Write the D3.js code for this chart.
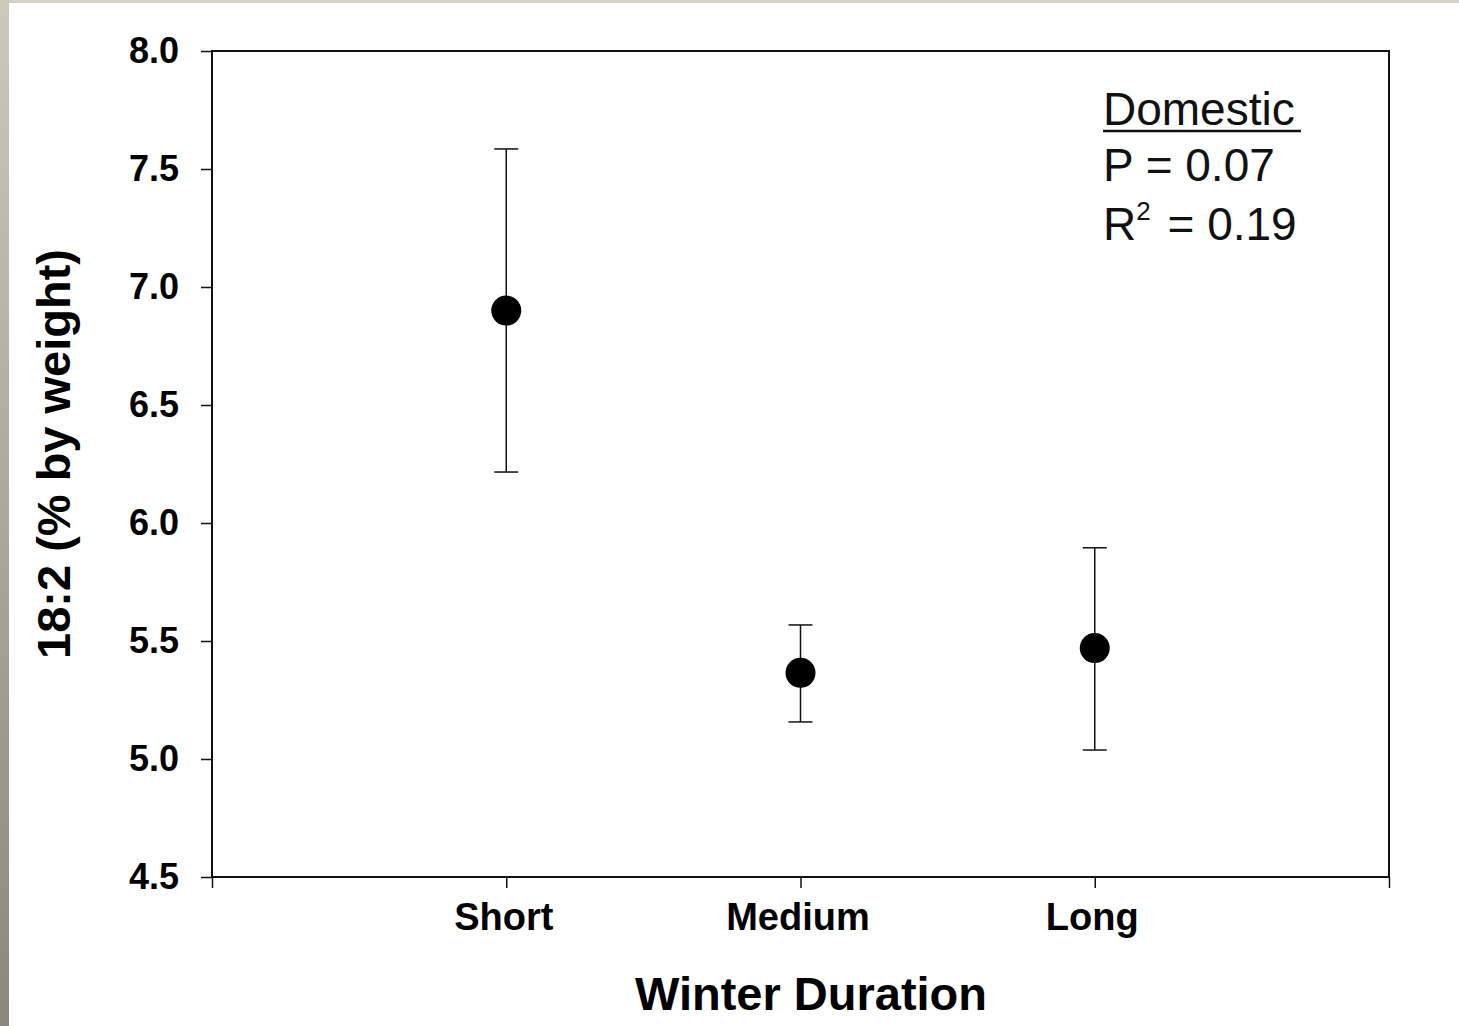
<!DOCTYPE html>
<html>
<head>
<meta charset="utf-8">
<script src="https://cdn.jsdelivr.net/npm/d3@7"></script>
<style>
  body { margin: 0; background: #ffffff; }
</style>
</head>
<body>
<script>
// Data
const categories = ["Short", "Medium", "Long"];
const means = [6.9, 5.365, 5.47];
const upper = [7.585, 5.568, 5.895];
const lower = [6.216, 5.157, 5.038];
const yTicks = [4.5, 5.0, 5.5, 6.0, 6.5, 7.0, 7.5, 8.0];

// Page size and plot frame
const W = 1459, H = 1026;
const plot = { left: 212, right: 1389, top: 51, bottom: 877 };

const svg = d3
  .select("body")
  .append("svg")
  .attr("width", W)
  .attr("height", H);

// Slide-like border on the left and top
const grad = svg
  .append("defs")
  .append("linearGradient")
  .attr("id", "edge")
  .attr("x1", 0).attr("y1", 0).attr("x2", 0).attr("y2", 1);
grad.append("stop").attr("offset", "0%").attr("stop-color", "#cdc9b9");
grad.append("stop").attr("offset", "100%").attr("stop-color", "#8b887b");

svg.append("rect").attr("x", 0).attr("y", 0).attr("width", W).attr("height", 3).attr("fill", "#d6d2c2");
svg.append("rect").attr("x", 0).attr("y", 0).attr("width", 9).attr("height", H).attr("fill", "url(#edge)");

// Scales: categories sit at 1, 2, 3 on a 0-4 axis
const xScale = d3.scaleLinear().domain([0, 4]).range([plot.left, plot.right]);
const yScale = d3.scaleLinear().domain([4.5, 8.0]).range([plot.bottom, plot.top]);

const font = "Arial, 'Liberation Sans', sans-serif";

// Plot frame
svg
  .append("rect")
  .attr("x", plot.left)
  .attr("y", plot.top)
  .attr("width", plot.right - plot.left)
  .attr("height", plot.bottom - plot.top)
  .attr("fill", "none")
  .attr("stroke", "#111")
  .attr("stroke-width", 2);

// Y axis
const yAxis = d3
  .axisLeft(yScale)
  .tickValues(yTicks)
  .tickSize(11)
  .tickPadding(22)
  .tickFormat(d3.format(".1f"));

svg
  .append("g")
  .attr("transform", `translate(${plot.left},0)`)
  .call(yAxis)
  .call((g) => g.select(".domain").remove())
  .call((g) => g.selectAll("line").attr("stroke", "#111").attr("stroke-width", 1.5))
  .call((g) =>
    g
      .selectAll("text")
      .attr("fill", "#000")
      .style("font-family", font)
      .style("font-size", "36px")
      .style("font-weight", "bold")
  );

// X axis
const xAxis = d3
  .axisBottom(xScale)
  .tickValues([0, 1, 2, 3, 4])
  .tickSize(11)
  .tickPadding(15)
  .tickFormat((d) => (d >= 1 && d <= 3 ? categories[d - 1] : ""));

svg
  .append("g")
  .attr("transform", `translate(0,${plot.bottom})`)
  .call(xAxis)
  .call((g) => g.select(".domain").remove())
  .call((g) => g.selectAll("line").attr("stroke", "#111").attr("stroke-width", 1.5))
  .call((g) =>
    g
      .selectAll("text")
      .attr("dx", -3)
      .attr("fill", "#000")
      .style("font-family", font)
      .style("font-size", "38px")
      .style("font-weight", "bold")
  );

// Axis titles
svg
  .append("text")
  .attr("x", 811)
  .attr("y", 1010)
  .attr("text-anchor", "middle")
  .style("font-family", font)
  .style("font-size", "47px")
  .style("font-weight", "bold")
  .text("Winter Duration");

svg
  .append("text")
  .attr("transform", "translate(70,454) rotate(-90)")
  .attr("text-anchor", "middle")
  .style("font-family", font)
  .style("font-size", "47px")
  .style("font-weight", "bold")
  .text("18:2 (% by weight)");

// Error bars
const bars = svg
  .append("g")
  .selectAll("g")
  .data(categories)
  .enter()
  .append("g");

const capHalf = 12;

bars
  .append("line")
  .attr("x1", (d, i) => xScale(i + 1))
  .attr("x2", (d, i) => xScale(i + 1))
  .attr("y1", (d, i) => yScale(upper[i]))
  .attr("y2", (d, i) => yScale(lower[i]))
  .attr("stroke", "#111")
  .attr("stroke-width", 1.5);

bars
  .append("line")
  .attr("x1", (d, i) => xScale(i + 1) - capHalf)
  .attr("x2", (d, i) => xScale(i + 1) + capHalf)
  .attr("y1", (d, i) => yScale(upper[i]))
  .attr("y2", (d, i) => yScale(upper[i]))
  .attr("stroke", "#111")
  .attr("stroke-width", 1.5);

bars
  .append("line")
  .attr("x1", (d, i) => xScale(i + 1) - capHalf)
  .attr("x2", (d, i) => xScale(i + 1) + capHalf)
  .attr("y1", (d, i) => yScale(lower[i]))
  .attr("y2", (d, i) => yScale(lower[i]))
  .attr("stroke", "#111")
  .attr("stroke-width", 1.5);

// Mean markers
bars
  .append("circle")
  .attr("cx", (d, i) => xScale(i + 1))
  .attr("cy", (d, i) => yScale(means[i]))
  .attr("r", 15)
  .attr("fill", "#000");

// Statistics note
const note = svg
  .append("g")
  .style("font-family", font)
  .style("font-size", "46px")
  .attr("fill", "#111");

note.append("text").attr("x", 1103).attr("y", 125).text("Domestic");
note
  .append("line")
  .attr("x1", 1103)
  .attr("x2", 1301)
  .attr("y1", 131)
  .attr("y2", 131)
  .attr("stroke", "#111")
  .attr("stroke-width", 2.5);

note.append("text").attr("x", 1103).attr("y", 181).text("P = 0.07");

const r2 = note.append("text").attr("x", 1103).attr("y", 240);
r2.append("tspan").text("R");
r2.append("tspan").attr("dy", -20).style("font-size", "26px").text("2");
r2.append("tspan").attr("dy", 20).attr("dx", 4).text(" = 0.19");
</script>
</body>
</html>
